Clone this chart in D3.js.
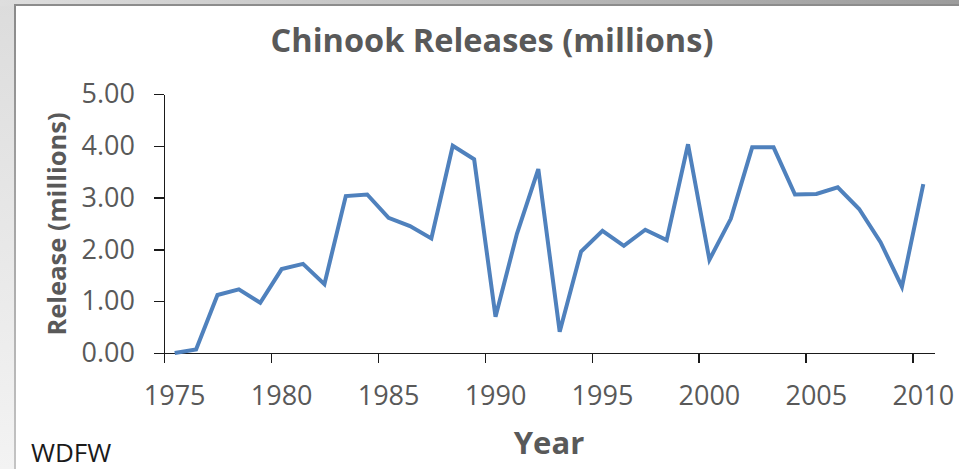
<!DOCTYPE html>
<html>
<head>
  <meta charset="utf-8">
  <title>Chinook Releases</title>
  <style>
    body { margin: 0; background: #fff; }
    svg { display: block; }
    .axis path, .axis line { stroke: #1a1a1a; stroke-width: 1.5; shape-rendering: crispEdges; }
    .axis text { font-family: "Open Sans", sans-serif; font-size: 27px; fill: #595959; }
    .line { fill: none; stroke: #4f81bd; stroke-width: 4; }
  </style>
</head>
<body>
<script src="https://d3js.org/d3.v7.min.js"></script>
<script>
  // data (release in millions, one value per year)
  var years = d3.range(1975, 2011);
  var releases = [
    0.00, 0.07, 1.12, 1.23, 0.97, 1.62, 1.72, 1.33, 3.03, 3.06,
    2.61, 2.45, 2.21, 4.00, 3.74, 0.70, 2.30, 3.55, 0.41, 1.96,
    2.36, 2.07, 2.38, 2.18, 4.03, 1.80, 2.59, 3.97, 3.97, 3.06,
    3.07, 3.20, 2.78, 2.14, 1.28, 3.26
  ];
  var xTicks = [1975, 1980, 1985, 1990, 1995, 2000, 2005, 2010];
  var yTicks = [0, 1, 2, 3, 4, 5];

  var W = 959, H = 469;
  var plot = { left: 164, right: 934, top: 94, bottom: 353 };

  var svg = d3.select("body").append("svg")
    .attr("width", W)
    .attr("height", H);

  // slide frame behind the chart
  var defs = svg.append("defs");
  var topGrad = defs.append("linearGradient").attr("id", "topGrad")
    .attr("x1", 0).attr("x2", 1).attr("y1", 0).attr("y2", 0);
  topGrad.append("stop").attr("offset", 0).attr("stop-color", "#dedede");
  topGrad.append("stop").attr("offset", 1).attr("stop-color", "#9c9c9c");
  var leftGrad = defs.append("linearGradient").attr("id", "leftGrad")
    .attr("x1", 0).attr("x2", 0).attr("y1", 0).attr("y2", 1);
  leftGrad.append("stop").attr("offset", 0).attr("stop-color", "#dcdcdc");
  leftGrad.append("stop").attr("offset", 1).attr("stop-color", "#f3f3f3");
  var edgeGrad = defs.append("linearGradient").attr("id", "edgeGrad")
    .attr("x1", 0).attr("x2", 0).attr("y1", 0).attr("y2", 1);
  edgeGrad.append("stop").attr("offset", 0).attr("stop-color", "#8a8a8a");
  edgeGrad.append("stop").attr("offset", 1).attr("stop-color", "#c4c4c4");

  svg.append("rect").attr("x", 0).attr("y", 0).attr("width", 16).attr("height", H)
    .attr("fill", "url(#leftGrad)");
  svg.append("rect").attr("x", 0).attr("y", 0).attr("width", W).attr("height", 6)
    .attr("fill", "url(#topGrad)");
  svg.append("rect").attr("x", 14).attr("y", 4).attr("width", 2).attr("height", H - 4)
    .attr("fill", "url(#edgeGrad)");
  svg.append("rect").attr("x", 14).attr("y", 4).attr("width", W - 14).attr("height", 2)
    .attr("fill", "#8c8c8c");

  var xScale = d3.scaleLinear()
    .domain([1975, 2011])
    .range([plot.left, plot.right]);

  var yScale = d3.scaleLinear()
    .domain([0, 5])
    .range([plot.bottom, plot.top]);

  // y axis
  svg.append("g")
    .attr("class", "axis")
    .attr("transform", "translate(" + plot.left + ",0)")
    .call(d3.axisLeft(yScale)
      .tickValues(yTicks)
      .tickFormat(d3.format(".2f"))
      .tickSize(10)
      .tickSizeOuter(0)
      .tickPadding(19));

  // x axis: ticks between categories, labels centred on the categories
  svg.append("g")
    .attr("class", "axis")
    .attr("transform", "translate(0," + plot.bottom + ")")
    .call(d3.axisBottom(xScale)
      .tickValues(xTicks)
      .tickFormat("")
      .tickSize(10)
      .tickSizeOuter(0));

  svg.append("g").selectAll("text")
    .data(xTicks)
    .enter()
    .append("text")
    .attr("x", function (d) { return xScale(d + 0.5); })
    .attr("y", 405)
    .attr("text-anchor", "middle")
    .style("font-family", "'Open Sans', sans-serif")
    .style("font-size", "27px")
    .attr("fill", "#595959")
    .text(function (d) { return d; });

  // the series
  var line = d3.line()
    .x(function (d, i) { return xScale(years[i] + 0.5); })
    .y(function (d) { return yScale(d); });

  svg.append("path")
    .datum(releases)
    .attr("class", "line")
    .attr("d", line);

  // titles
  svg.append("text")
    .attr("x", 492)
    .attr("y", 52)
    .attr("text-anchor", "middle")
    .style("font-family", "'Open Sans', sans-serif")
    .style("font-weight", "bold")
    .style("font-size", "32.5px")
    .attr("fill", "#595959")
    .text("Chinook Releases (millions)");

  svg.append("text")
    .attr("transform", "translate(66,224) rotate(-90)")
    .attr("text-anchor", "middle")
    .style("font-family", "'Open Sans', sans-serif")
    .style("font-weight", "bold")
    .style("font-size", "25.5px")
    .attr("fill", "#595959")
    .text("Release (millions)");

  svg.append("text")
    .attr("x", 549)
    .attr("y", 454)
    .attr("text-anchor", "middle")
    .style("font-family", "'Open Sans', sans-serif")
    .style("font-weight", "bold")
    .style("font-size", "31px")
    .attr("fill", "#595959")
    .text("Year");

  svg.append("text")
    .attr("x", 31)
    .attr("y", 462)
    .style("font-family", "'Open Sans', sans-serif")
    .style("font-size", "26px")
    .attr("fill", "#1a1a1a")
    .text("WDFW");
</script>
</body>
</html>
